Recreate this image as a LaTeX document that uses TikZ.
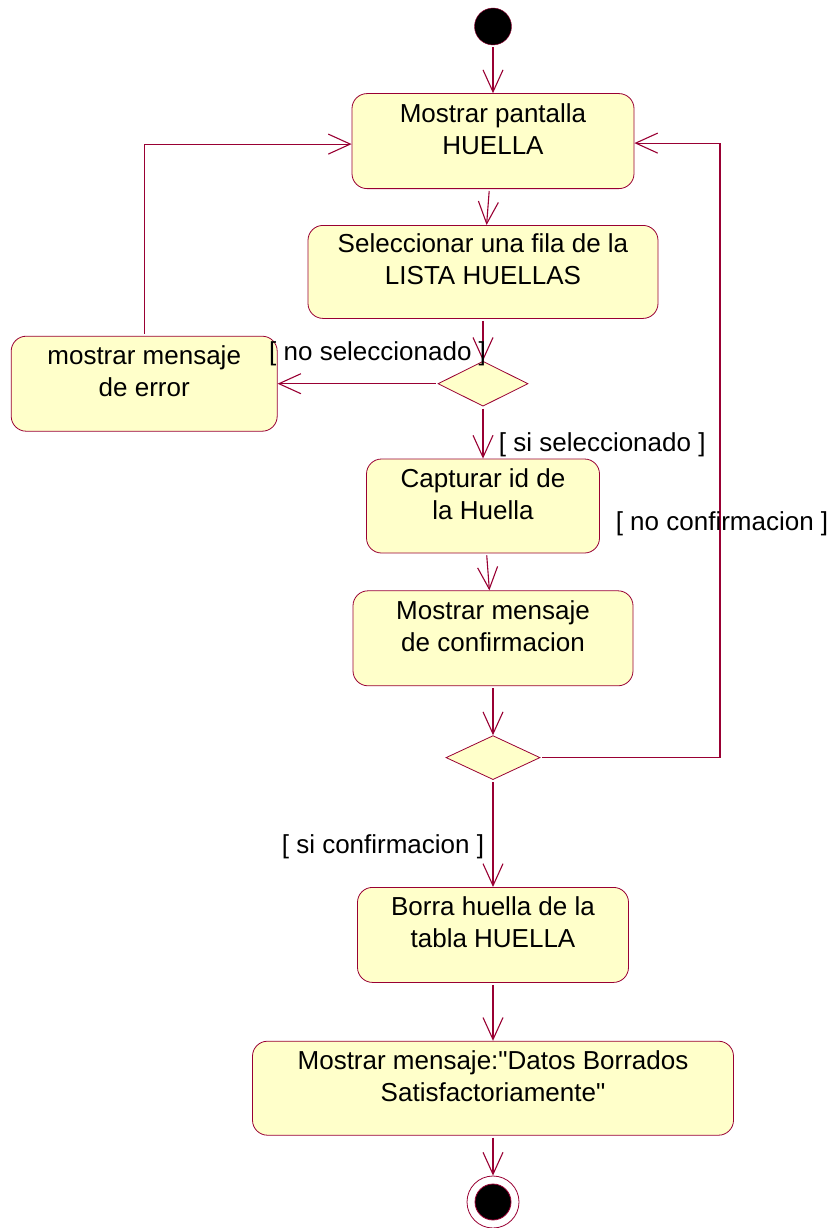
\documentclass[tikz,border=0pt]{standalone}
\usepackage{fontspec}
\setmainfont{Liberation Sans}[Ligatures=TeXOff]
\usepackage{tikz}
\usetikzlibrary{shapes,arrows.meta,positioning,calc}
\definecolor{roseline}{RGB}{153,0,51}
\definecolor{rosefill}{RGB}{255,255,202}

\begin{document}
\begin{tikzpicture}[x=1pt, y=1pt, every text node part/.style={align=center},
    font=\fontsize{26}{32}\selectfont,
    act/.style={draw=roseline, fill=rosefill, rectangle, rounded corners=15pt, line width=0.8pt, inner sep=0pt, minimum height=95pt, text height=58pt, text depth=32pt},
    decision/.style={draw=roseline, fill=rosefill, diamond, inner sep=0pt, line width=0.8pt},
    flow/.style={draw=roseline, line width=1.1pt, shorten <=2pt, -{Straight Barb[length=22pt, width=20pt, line width=1.1pt]}}]
    \useasboundingbox (0,0) rectangle (831,-1228);

    \node [circle, fill=black, draw=roseline, minimum size=37pt, inner sep=0pt] (start) at (493,-26.5) {};
    \node [act, minimum width=282pt, below=48pt of start] (show) {Mostrar pantalla\\HUELLA};
    \node [act, minimum width=350pt, minimum height=93pt, below=36pt of show, xshift=-10pt] (select) {Seleccionar una fila de la\\LISTA HUELLAS};
    \node [decision, minimum width=90pt, minimum height=45pt, below=42pt of select] (dec1) {};
    \node [act, minimum width=266pt, left=160pt of dec1] (error) {mostrar mensaje\\de error};
    \node [act, minimum width=233pt, minimum height=94pt, below=52pt of dec1] (capture) {Capturar id de\\la Huella};
    \node [act, minimum width=280pt, below=37pt of capture, xshift=10pt] (confirm) {Mostrar mensaje\\de confirmacion};
    \node [decision, minimum width=94pt, minimum height=44pt, below=49pt of confirm] (dec2) {};
    \node [act, minimum width=271pt, below=107pt of dec2] (delete) {Borra huella de la\\tabla HUELLA};
    \node [act, minimum width=481pt, minimum height=94pt, below=58pt of delete] (done) {Mostrar mensaje:"Datos Borrados\\Satisfactoriamente"};
    \node [circle, draw=roseline, fill=white, minimum size=52pt, inner sep=0pt, line width=0.8pt, below=40pt of done,
        path picture={\filldraw [fill=black, draw=roseline] (path picture bounding box.center) circle (18pt);}] (final) {};

    \draw [flow] (start) -- (show);
    \draw [flow] (show) -- (select);
    \draw [flow] (select) -- (dec1);
    \draw [flow] (dec1) -- node [above=14pt, pos=0.375] {[ no seleccionado ]} (error);
    \draw [flow] (error.north) |- ([yshift=-3pt]show.west);
    \draw [flow] (dec1) -- node [right=12pt, pos=0.74] {[ si seleccionado ]} (capture);
    \draw [flow] (capture) -- (confirm);
    \draw [flow] (confirm) -- (dec2);
    \draw [flow] (dec2) -- ++(227,0) |- node [pos=0.19, xshift=2pt] {[ no confirmacion ]} ([yshift=-2pt]show.east);
    \draw [flow] (dec2) -- node [left=5pt, pos=0.62] {[ si confirmacion ]} (delete);
    \draw [flow] (delete) -- (done);
    \draw [flow] (done) -- (final);
\end{tikzpicture}
\end{document}
